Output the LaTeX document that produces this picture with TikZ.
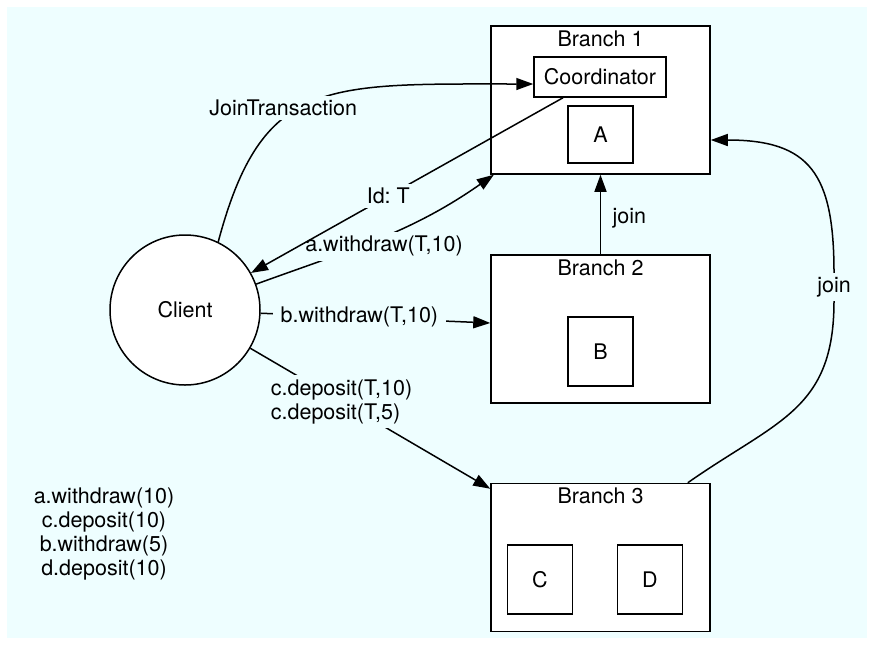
\documentclass[tikz,border=0pt]{standalone}
\usepackage{fontspec}
\setmainfont{TeX Gyre Heros}
\usetikzlibrary{arrows.meta,positioning}
\definecolor{bgcyan}{RGB}{238,254,255}
\frenchspacing

\begin{document}
\begin{tikzpicture}[x=1pt, y=-1pt,
        font=\fontsize{21.5}{24}\selectfont,
        line width=1.5pt,
        >={Triangle[length=17pt,width=12pt]},
        branch/.style={draw, fill=white, minimum width=219pt, minimum height=148pt, inner sep=0pt},
        account/.style={draw, fill=white, minimum width=65pt, minimum height=69pt, inner sep=0pt},
        msg/.style={fill=bgcyan, inner xsep=8pt, inner ysep=4pt}]
        \useasboundingbox (0,0) rectangle (874,646);
        \fill[bgcyan] (7,7) rectangle (867,638);
        \node[branch] (b1) at (600.5,100) {};
        \node[below=1pt of b1.north] {Branch 1};
        \node[draw, fill=white, minimum width=132pt, minimum height=40pt, inner sep=0pt] (coord) at (600,77) {Coordinator};
        \node[account, minimum height=57pt] (a) at (600.5,134.5) {A};
        \node[branch] (b2) at (600.5,329) {};
        \node[below=1pt of b2.north] {Branch 2};
        \node[account] (b) at (600.5,351.5) {B};
        \node[branch] (b3) at (600.5,557.5) {};
        \node[below=1pt of b3.north] {Branch 3};
        \node[account] (c) at (540,579.5) {C};
        \node[account] (d) at (650,579.5) {D};
        \node[draw, circle, fill=white, minimum size=150pt, inner sep=0pt] (client) at (185,310) {Client};
        \node[align=center] (ops) at (104,534) {a.withdraw(10)\\c.deposit(10)\\b.withdraw(5)\\d.deposit(10)};
        \draw[->] (client.64) .. controls (262,78) and (324,84) .. node[msg, pos=0.45, xshift=-17pt] {JoinTransaction} ([yshift=-7pt]coord.west);
        \draw[->] (client.20) to[out=20,in=215] node[msg, pos=0.52, yshift=-10pt] {a.withdraw(T,10)} (b1);
        \draw[->] ([xshift=-37pt]coord.south) -- node[msg, pos=0.56] {Id: T} (client);
        \draw[->] (client) -- node[msg, pos=0.43] {b.withdraw(T,10)} ([yshift=6pt]b2.west);
        \draw[->] (client) -- node[msg, pos=0.38, align=left] {c.deposit(T,10)\\c.deposit(T,5)} ([yshift=-6pt]b3.north west);
        \draw[->] (b2) -- node[right=8pt, yshift=-4pt] {join} (b1);
        \node (joinlbl) at (834,287) {join};
        \draw ([xshift=-23pt]b3.north east) to[out=35,in=-90,looseness=1.2] (joinlbl.south);
        \draw[->] (joinlbl.north) to[out=90,in=0,looseness=1.4] ([yshift=-40pt]b1.east);
\end{tikzpicture}
\end{document}
